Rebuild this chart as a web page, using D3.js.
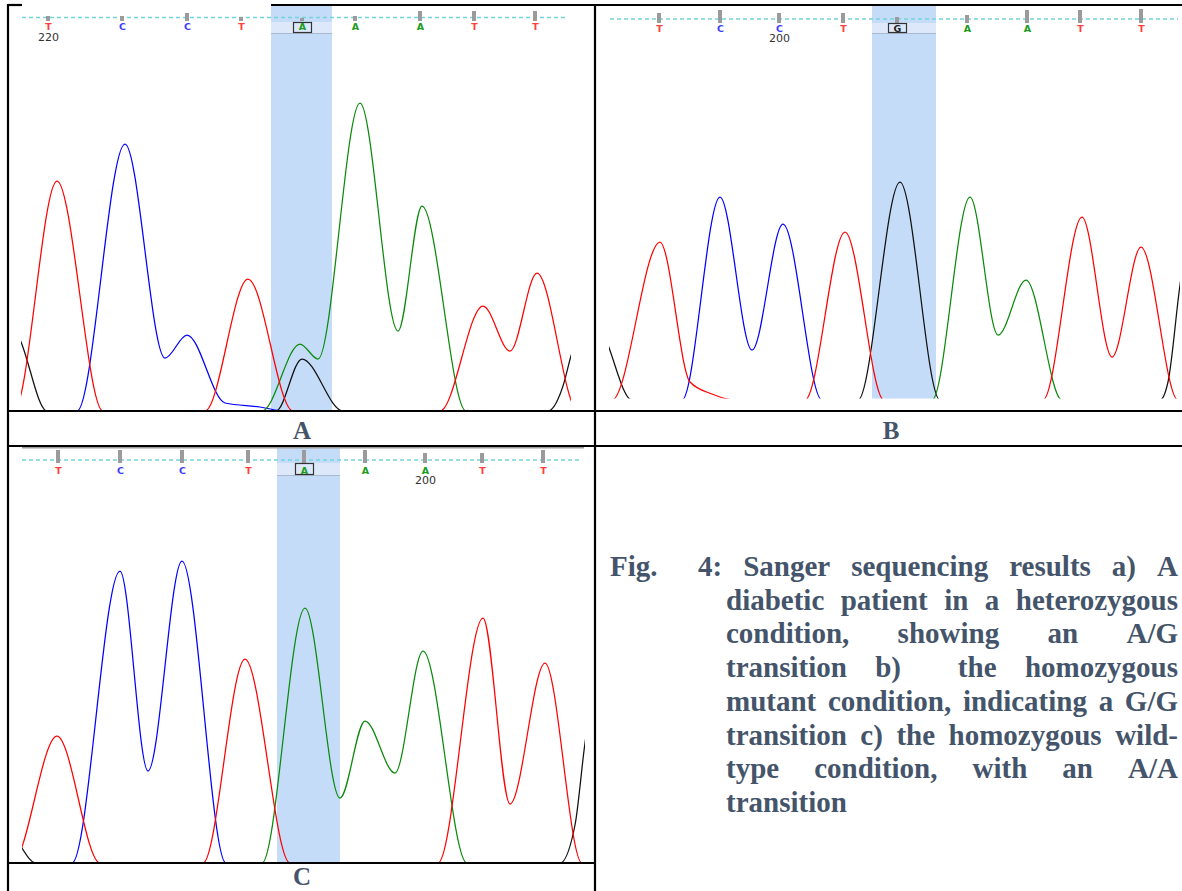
<!DOCTYPE html>
<html>
<head>
<meta charset="utf-8">
<script src="https://cdn.jsdelivr.net/npm/d3@7"></script>
<style>
  body { margin: 0; background: #fff; }
  svg { display: block; }
</style>
</head>
<body>
<script>
// base calls printed over each trace (scan position, call, quality bar)
const basesA = ["T", "C", "C", "T", "A", "A", "A", "T", "T"];
const callsA = [28, 102, 167, 221, 282, 335, 400, 454, 515];
const qualA = [25, 25, 40, 20, 15, 25, 50, 50, 50];
const basesB = ["T", "C", "C", "T", "G", "A", "A", "T", "T"];
const callsB = [54, 115, 174, 238, 292, 362, 422, 475, 536];
const qualB = [50, 65, 50, 50, 30, 40, 65, 65, 70];
const basesC = ["T", "C", "C", "T", "A", "A", "A", "T", "T"];
const callsC = [38, 100, 162, 228, 284, 345, 405, 462, 523];
const qualC = [65, 65, 65, 65, 65, 65, 50, 50, 65];

// base numbering label: [index of base, text]
const numA = [0, "220"];
const numB = [2, "200"];
const numC = [6, "200"];

// the SNP base and the highlighted scan window round it
const snpA = 4, snpB = 4, snpC = 4;
const bandA = [251, 312];
const bandB = [267, 331];
const bandC = [257, 320];

// chromatogram traces, [scan, signal]
const redA = [[-40, 0], [-6, 0], [37, 230], [83, 0], [185, 0], [228, 132], [273, 0], [420, 0], [463, 105], [490, 60], [517, 138], [558, 0], [600, 0]];
const blueA = [[-40, 0], [57, 0], [105, 267], [145, 53], [167, 76], [205, 8], [240, 4], [265, 0], [600, 0]];
const greenA = [[-40, 0], [242, 0], [280, 67], [298, 52], [340, 308], [378, 80], [402, 205], [446, 0], [600, 0]];
const blackA = [[-20, 60], [-6, 78], [27, 0], [256, 0], [282, 52], [323, 0], [528, 0], [543, 25], [551, 55], [562, 85]];

const redB = [[-40, 0], [7, 0], [55, 158], [85, 18], [107, 6], [130, 0], [200, 0], [240, 168], [279, 0], [438, 0], [477, 183], [507, 43], [536, 153], [573, 0], [620, 0]];
const blueB = [[-40, 0], [77, 0], [115, 203], [147, 50], [178, 176], [217, 0], [620, 0]];
const greenB = [[-40, 0], [327, 0], [365, 203], [393, 65], [421, 120], [457, 0], [620, 0]];
const blackB = [[-20, 55], [-8, 72], [27, 0], [253, 0], [295, 218], [335, 0], [555, 0], [563, 18], [575, 115], [582, 160]];

const redC = [[-40, 0], [-8, 0], [37, 127], [80, 0], [183, 0], [225, 204], [270, 0], [418, 0], [463, 245], [490, 59], [525, 200], [562, 0], [600, 0]];
const blueC = [[-40, 0], [52, 0], [100, 292], [128, 92], [162, 302], [206, 0], [600, 0]];
const greenC = [[-40, 0], [242, 0], [285, 255], [320, 65], [345, 142], [375, 90], [403, 212], [447, 0], [600, 0]];
const blackC = [[-25, 20], [-12, 30], [16, 0], [540, 0], [555, 38], [565, 120], [575, 180]];

// caption text
const captionLead = "Fig.";
const captionLines = [
  "4: Sanger sequencing results a) A",
  "diabetic patient in a heterozygous",
  "condition, showing an A/G",
  "transition b)  the homozygous",
  "mutant condition, indicating a G/G",
  "transition c) the homozygous wild-",
  "type condition, with an A/A",
  "transition",
];

var width = 1182,
  height = 891;

var traceColor = { A: "#0a8a0a", C: "#0000ff", G: "#111111", T: "#ff0000" };
var callColor = { A: "#1c9c1c", C: "#3b3bff", G: "#222222", T: "#ff3d3d" };
var textColor = "#44546a";

var svg = d3
  .select("body")
  .append("svg")
  .attr("width", width)
  .attr("height", height);

svg.append("rect").attr("width", width).attr("height", height).attr("fill", "#fff");

// layout of the three trace panels
var panels = [
  {
    name: "A", bases: basesA, calls: callsA, qual: qualA, num: numA, snp: snpA, band: bandA,
    traces: [["G", blackA], ["C", blueA], ["A", greenA], ["T", redA]],
    x0: 20, clip: [21, 571], top: 6, base: 410, zero: 411,
    dashY: 17.5, dashX: [22, 568], tickBottom: 21, letterY: 30, numY: 41, row: [22, 33],
  },
  {
    name: "B", bases: basesB, calls: callsB, qual: qualB, num: numB, snp: snpB, band: bandB,
    traces: [["G", blackB], ["C", blueB], ["A", greenB], ["T", redB]],
    x0: 605, clip: [609, 1180], top: 6, base: 398.5, zero: 400,
    dashY: 19, dashX: [610, 1178], tickBottom: 23, letterY: 32, numY: 42, row: [23, 33],
  },
  {
    name: "C", bases: basesC, calls: callsC, qual: qualC, num: numC, snp: snpC, band: bandC,
    traces: [["G", blackC], ["C", blueC], ["A", greenC], ["T", redC]],
    x0: 20, clip: [22, 585], top: 447.5, base: 862, zero: 863,
    dashY: 460, dashX: [22, 580], tickBottom: 463, letterY: 474, numY: 484, row: [463, 475],
  },
];

panels.forEach(drawPanel);
drawTable();
drawCaption();

function drawPanel(p) {
  var xScale = d3.scaleLinear().domain([0, 600]).range([p.x0, p.x0 + 600]);
  var yScale = d3.scaleLinear().domain([0, 400]).range([p.zero, p.zero - 400]);
  var qScale = d3.scaleLinear().domain([0, 70]).range([0, 14]);
  var g = svg.append("g").attr("class", "panel " + p.name);

  // highlighted window
  var bx0 = xScale(p.band[0]),
    bx1 = xScale(p.band[1]);
  g.append("rect")
    .attr("x", bx0)
    .attr("y", p.top)
    .attr("width", bx1 - bx0)
    .attr("height", p.base - p.top)
    .attr("fill", "#c5dcf9");
  g.append("rect")
    .attr("x", bx0)
    .attr("y", p.row[0])
    .attr("width", bx1 - bx0)
    .attr("height", p.row[1] - p.row[0])
    .attr("fill", "#dde9fb");
  g.append("line")
    .attr("x1", bx0)
    .attr("x2", bx1)
    .attr("y1", p.row[1] + 0.5)
    .attr("y2", p.row[1] + 0.5)
    .attr("stroke", "#a9b9cf")
    .attr("stroke-width", 1);

  // panel C has a grey rule on top
  if (p.name === "C") {
    g.append("line")
      .attr("x1", 22)
      .attr("x2", 584)
      .attr("y1", p.top)
      .attr("y2", p.top)
      .attr("stroke", "#9c9c9c")
      .attr("stroke-width", 2);
  }

  // dashed guide line
  g.append("line")
    .attr("x1", p.dashX[0])
    .attr("x2", p.dashX[1])
    .attr("y1", p.dashY)
    .attr("y2", p.dashY)
    .attr("stroke", "#72d3dc")
    .attr("stroke-width", 1.3)
    .attr("stroke-dasharray", "4,3");

  // quality bars
  g.selectAll(".qbar")
    .data(p.calls)
    .enter()
    .append("rect")
    .attr("class", "qbar")
    .attr("x", (d) => xScale(d) - 2)
    .attr("y", (d, i) => p.tickBottom - qScale(p.qual[i]))
    .attr("width", 4)
    .attr("height", (d, i) => qScale(p.qual[i]))
    .attr("fill", "#9b9b9b");

  // box round the SNP call
  var sx = xScale(p.calls[p.snp]);
  g.append("rect")
    .attr("x", sx - 8.5)
    .attr("y", p.row[0] + 0.5)
    .attr("width", 18)
    .attr("height", p.row[1] - p.row[0] - 1)
    .attr("fill", "none")
    .attr("stroke", "#333")
    .attr("stroke-width", 1.2);

  // base letters
  g.selectAll(".call")
    .data(p.bases)
    .enter()
    .append("text")
    .attr("class", "call")
    .attr("x", (d, i) => xScale(p.calls[i]) + 0.5)
    .attr("y", p.letterY)
    .attr("text-anchor", "middle")
    .attr("font-family", "DejaVu Sans, sans-serif")
    .attr("font-weight", "bold")
    .attr("font-size", "9.5px")
    .attr("fill", (d) => callColor[d])
    .text((d) => d);

  // base number
  g.append("text")
    .attr("x", xScale(p.calls[p.num[0]]) + 0.5)
    .attr("y", p.numY)
    .attr("text-anchor", "middle")
    .attr("font-family", "DejaVu Sans, sans-serif")
    .attr("font-size", "11px")
    .attr("fill", "#333")
    .text(p.num[1]);

  // traces
  var clipId = "clip" + p.name;
  svg
    .append("clipPath")
    .attr("id", clipId)
    .append("rect")
    .attr("x", p.clip[0])
    .attr("y", p.top)
    .attr("width", p.clip[1] - p.clip[0])
    .attr("height", p.base - p.top);

  var line = d3
    .line()
    .x((d) => xScale(d[0]))
    .y((d) => yScale(d[1]))
    .curve(d3.curveMonotoneX);

  var tg = g.append("g").attr("clip-path", "url(#" + clipId + ")");
  p.traces.forEach(function (t) {
    tg.append("path")
      .attr("d", line(t[1]))
      .attr("fill", "none")
      .attr("stroke", traceColor[t[0]])
      .attr("stroke-width", 1.25);
  });
}

function drawTable() {
  var b = svg.append("g").attr("stroke", "#000").attr("stroke-width", 2.2);
  var segs = [
    [8, 5, 22, 5],
    [271, 5, 1182, 5],
    [8, 4, 8, 891],
    [595, 4, 595, 891],
    [8, 411, 1182, 411],
    [8, 446, 1182, 446],
    [8, 863, 595, 863],
  ];
  segs.forEach(function (s) {
    b.append("line").attr("x1", s[0]).attr("y1", s[1]).attr("x2", s[2]).attr("y2", s[3]);
  });

  // panel labels
  [["A", 302, 439], ["B", 891, 439], ["C", 302, 884.5]].forEach(function (l) {
    svg
      .append("text")
      .attr("x", l[1])
      .attr("y", l[2])
      .attr("text-anchor", "middle")
      .attr("font-family", "Liberation Serif, Times New Roman, serif")
      .attr("font-weight", "bold")
      .attr("font-size", "25px")
      .attr("fill", textColor)
      .text(l[0]);
  });
}

function drawCaption() {
  var g = svg
    .append("g")
    .attr("font-family", "Liberation Serif, Times New Roman, serif")
    .attr("font-weight", "bold")
    .attr("font-size", "29px")
    .attr("fill", textColor);

  g.append("text").attr("x", 610).attr("y", 576).text(captionLead);

  captionLines.forEach(function (str, i) {
    var x0 = i === 0 ? 698 : 726;
    justifyLine(g, str, x0, 1178, 576 + i * 33.7, i === captionLines.length - 1);
  });
}

// spread the words of one line between x0 and x1
function justifyLine(g, str, x0, x1, y, last) {
  var parts = str.split(" ");
  var words = [],
    gaps = [],
    pending = 0;
  parts.forEach(function (w) {
    if (w === "") {
      pending += 1;
      return;
    }
    if (words.length) gaps.push(1 + pending);
    pending = 0;
    words.push(w);
  });

  var nodes = words.map((w) => g.append("text").attr("y", y).text(w));
  var widths = nodes.map((n) => n.node().getComputedTextLength());
  var total = d3.sum(widths);
  var unit = last || !gaps.length ? 7 : (x1 - x0 - total) / d3.sum(gaps);

  var x = x0;
  nodes.forEach(function (n, i) {
    n.attr("x", x);
    x += widths[i] + (i < gaps.length ? gaps[i] * unit : 0);
  });
}
</script>
</body>
</html>
